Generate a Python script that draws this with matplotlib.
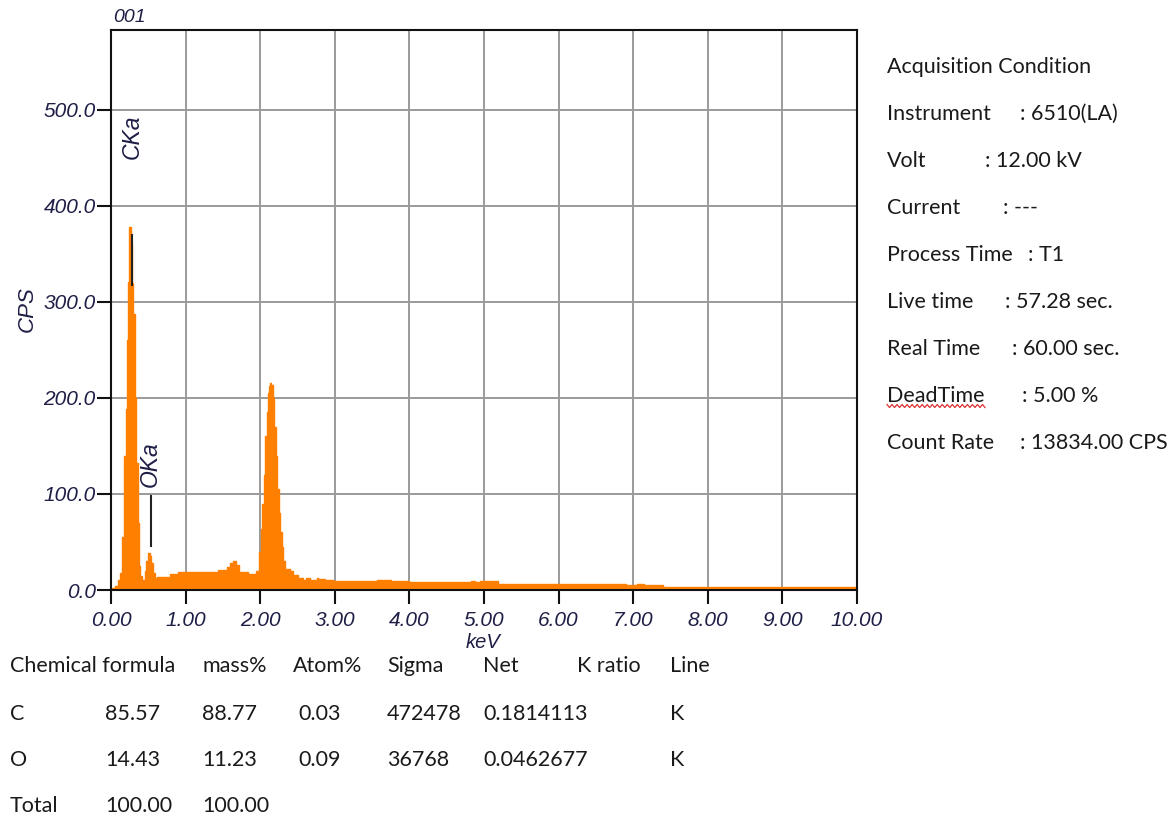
import numpy as np
import matplotlib
matplotlib.use("Agg")
import matplotlib.pyplot as plt
from matplotlib.lines import Line2D

# EDS spectrum: step segments (left edge in keV) and counts per second
seg_start_keV = [0.00, 0.05, 0.09, 0.12, 0.15, 0.17, 0.18, 0.20, 0.21, 0.23,
                 0.245, 0.265, 0.28, 0.30, 0.32, 0.34, 0.36, 0.375, 0.39, 0.42,
                 0.45, 0.47, 0.49, 0.52, 0.54, 0.56, 0.585, 0.61, 0.79, 0.90,
                 1.43, 1.56, 1.60, 1.64, 1.68, 1.71, 1.83, 1.94, 1.99, 2.01,
                 2.03, 2.05, 2.07, 2.09, 2.10, 2.12, 2.13, 2.15, 2.17, 2.19,
                 2.21, 2.23, 2.25, 2.27, 2.29, 2.31, 2.33, 2.40, 2.44, 2.51,
                 2.58, 2.62, 2.67, 2.76, 2.78, 2.87, 2.98, 3.57, 3.75, 4.00,
                 4.82, 4.88, 4.95, 5.19, 6.90, 7.05, 7.15, 7.40]
seg_cps = [2, 4, 10, 18, 55, 90, 140, 188, 260, 321,
           378, 360, 320, 287, 200, 132, 70, 25, 15, 10,
           20, 30, 38, 35, 28, 18, 13, 14, 17, 19,
           21, 24, 28, 30, 26, 19, 17, 20, 40, 64,
           90, 120, 160, 185, 205, 212, 216, 213, 200, 170,
           140, 105, 80, 60, 45, 30, 22, 20, 16, 13,
           10, 12, 10, 12, 11, 10, 9, 10.5, 9, 8,
           9, 8, 9, 6.5, 5.5, 6, 5, 3.5]
energy_end_keV = 10.0

# Element line markers
line_names = ["CKa", "OKa"]
line_keV = [0.285, 0.53]
marker_low = [318, 46]
marker_high = [370, 98]
label_cps = [472, 131]

# Tick definitions
x_ticks = np.arange(0, 11, 1.0)
y_ticks = np.arange(0, 600, 100.0)

# Acquisition info
acq_labels = ["Instrument", "Volt", "Current", "Process Time", "Live time",
              "Real Time", "DeadTime", "Count Rate"]
acq_values = [": 6510(LA)", ": 12.00 kV", ": ---", ": T1", ": 57.28 sec.",
              ": 60.00 sec.", ": 5.00 %", ": 13834.00 CPS"]
acq_value_x = [1020, 985, 1003, 1028, 1005, 1012, 1022, 1020]

# Quantification table
table_header = ["Chemical formula", "mass%", "Atom%", "Sigma", "Net", "K ratio", "Line"]
header_x = [10, 202, 293, 387, 483, 577, 670]
table_rows = [
    ["C", "85.57", "88.77", "0.03", "472478", "0.1814113", "K"],
    ["O", "14.43", "11.23", "0.09", "36768", "0.0462677", "K"],
    ["Total", "100.00", "100.00"],
]
row_x = [10, 105, 202, 298, 387, 483, 670]

W, H = 1173, 816
fig = plt.figure(figsize=(W / 100, H / 100), dpi=100)
fig.patch.set_facecolor("white")

def fx(px):
    return px / W

def fy(py):
    return 1 - py / H

ax_left, ax_right, ax_top, ax_bottom = 111, 857, 30, 590
ax = fig.add_axes([fx(ax_left), fy(ax_bottom), fx(ax_right) - fx(ax_left),
                   fy(ax_top) - fy(ax_bottom)])

orange = "#FF8000"
ink = "#1e1e46"
axis_font = {"family": "Liberation Sans", "style": "italic"}

xs = np.array(seg_start_keV + [energy_end_keV])
ys = np.array(seg_cps + [seg_cps[-1]])
ax.fill_between(xs, 0, ys, step="post", color=orange, linewidth=0, zorder=3)
ax.step(xs, ys, where="post", color=orange, linewidth=1.0, zorder=3)

ax.set_xlim(0, 10)
ax.set_ylim(0, 583)
ax.set_xticks(x_ticks)
ax.set_yticks(y_ticks)
ax.set_xticklabels([f"{v:.2f}" for v in x_ticks], fontdict=axis_font, color=ink, fontsize=15)
ax.set_yticklabels([f"{v:.1f}" for v in y_ticks], fontdict=axis_font, color=ink, fontsize=15)
ax.tick_params(axis="both", direction="out", length=10, width=1.5, color="#111111")
ax.tick_params(axis="x", pad=5)
ax.tick_params(axis="y", pad=1)
ax.grid(True, color="#9a9a9a", linewidth=1.4, zorder=1)
ax.set_axisbelow(True)
for s in ax.spines.values():
    s.set_linewidth(1.5)
    s.set_color("#111111")
    s.set_zorder(4)

# element markers and labels
for name, e, lo, hi, lab in zip(line_names, line_keV, marker_low, marker_high, label_cps):
    ax.plot([e, e], [lo, hi], color="#222222", linewidth=1.5, zorder=5)
    ax.text(e, lab, name, rotation=90, ha="center", va="center", color=ink,
            fontsize=16.5, zorder=5, **axis_font)

fig.text(fx(129), fy(17), "001", ha="center", va="center", color=ink, fontsize=14, **axis_font)
fig.text(fx(27), fy(309), "CPS", rotation=90, ha="center", va="center", color=ink,
         fontsize=16, **axis_font)
fig.text(fx(483), fy(643), "keV", ha="center", va="center", color=ink, fontsize=14.5, **axis_font)

# Acquisition condition block
body_font = "Lato"
txt_color = "#1a1a1a"
fs = 15.5
fig.text(fx(887), fy(67), "Acquisition Condition", ha="left", va="center",
         family=body_font, fontsize=fs, color=txt_color)
for i, (lab, val, vx) in enumerate(zip(acq_labels, acq_values, acq_value_x)):
    yy = 114 + i * 47
    fig.text(fx(887), fy(yy), lab, ha="left", va="center", family=body_font,
             fontsize=fs, color=txt_color)
    fig.text(fx(vx), fy(yy), val, ha="left", va="center", family=body_font,
             fontsize=fs, color=txt_color)

# spell-check squiggle under "DeadTime"
zz_x = np.linspace(887, 985, 40)
zz_y = 406 + 1.5 * np.where(np.arange(40) % 2 == 0, -1, 1)
fig.add_artist(Line2D(fx(zz_x), fy(zz_y), color="#e03030", linewidth=0.9))

# Quantification table
for hx, h in zip(header_x, table_header):
    fig.text(fx(hx), fy(666), h, ha="left", va="center", family=body_font,
             fontsize=fs, color=txt_color)
for r, row in enumerate(table_rows):
    yy = 714 + r * 46
    for cx, cell in zip(row_x, row):
        fig.text(fx(cx), fy(yy), cell, ha="left", va="center", family=body_font,
                 fontsize=fs, color=txt_color)

fig.savefig("out.png", dpi=100, facecolor="white")
